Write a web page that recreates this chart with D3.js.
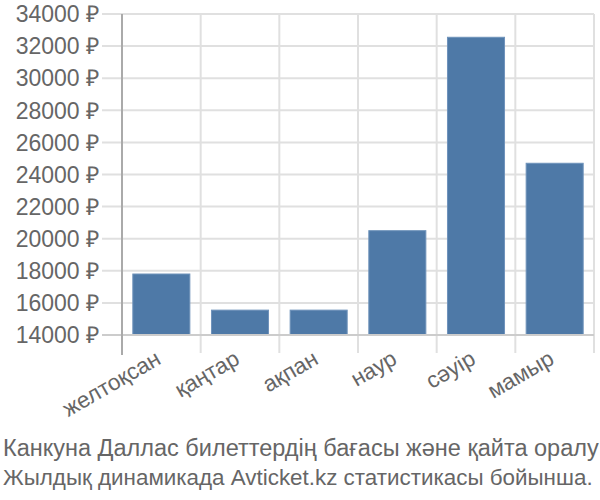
<!DOCTYPE html>
<html><head><meta charset="utf-8">
<script src="https://cdn.jsdelivr.net/npm/d3@7"></script>
<style>body{margin:0;background:#fff}svg text{font-family:"Liberation Sans",Arial,sans-serif;fill:#666}</style>
</head><body><svg id="c" width="600" height="500"></svg>
<script>
const categories = ["желтоқсан","қаңтар","ақпан","наур","сәуір","мамыр"];
const values = [17800, 15550, 15550, 20500, 32550, 24700];
const yTicks = [14000,16000,18000,20000,22000,24000,26000,28000,30000,32000,34000];
const titleLines = ["Канкуна Даллас билеттердің бағасы және қайта оралу","Жылдық динамикада Avticket.kz статистикасы бойынша."];

const W=600,H=500,m={l:122,r:6,t:14,b:165};
const svg=d3.select("#c");
const x=d3.scaleBand().domain(categories).range([m.l,W-m.r]).paddingInner(0.275).paddingOuter(0.1375);
const y=d3.scaleLinear().domain([14000,34000]).range([H-m.b,m.t]);

// horizontal grid
svg.append("g").selectAll("line").data(yTicks).join("line")
 .attr("x1",102).attr("x2",W-m.r).attr("y1",d=>y(d)).attr("y2",d=>y(d))
 .attr("stroke","#e0e0e0").attr("stroke-width",2);
// vertical grid
const bounds=categories.map(c=>x(c)-x.step()*x.paddingInner()/2);
bounds.push(W-m.r);
svg.append("g").selectAll("line").data(bounds).join("line")
 .attr("x1",d=>d).attr("x2",d=>d).attr("y1",m.t).attr("y2",H-m.b+18)
 .attr("stroke","#e0e0e0").attr("stroke-width",2);
// y labels
svg.append("g").selectAll("text").data(yTicks).join("text")
 .attr("x",99).attr("y",d=>y(d)).attr("dy","0.36em").attr("text-anchor","end")
 .attr("font-size",23).text(d=>d+" ₽");
// bars
svg.append("g").selectAll("rect").data(values).join("rect")
 .attr("x",(d,i)=>x(categories[i])).attr("width",x.bandwidth())
 .attr("y",d=>y(d)).attr("height",d=>y(14000)-y(d))
 .attr("fill","#4e79a7").attr("stroke","#6f93bb").attr("stroke-width",1);
// axes lines
svg.append("line").attr("x1",102).attr("x2",W-m.r).attr("y1",y(14000)).attr("y2",y(14000)).attr("stroke","#cccccc").attr("stroke-width",2);
svg.append("line").attr("x1",m.l).attr("x2",m.l).attr("y1",m.t).attr("y2",H-m.b+20).attr("stroke","#aaaaaa").attr("stroke-width",2);
// x labels
svg.append("g").selectAll("text").data(categories).join("text")
 .attr("transform",d=>`translate(${x(d)+x.bandwidth()/2+1},${H-m.b+28}) rotate(-30)`)
 .attr("text-anchor","end").attr("font-size",22.5).text(d=>d);
// title
const titleSizes=[23.5,22.4];
svg.append("g").selectAll("text").data(titleLines).join("text")
 .attr("x",3).attr("y",(d,i)=>456+i*29).attr("font-size",(d,i)=>titleSizes[i]).text(d=>d);
</script></body></html>
